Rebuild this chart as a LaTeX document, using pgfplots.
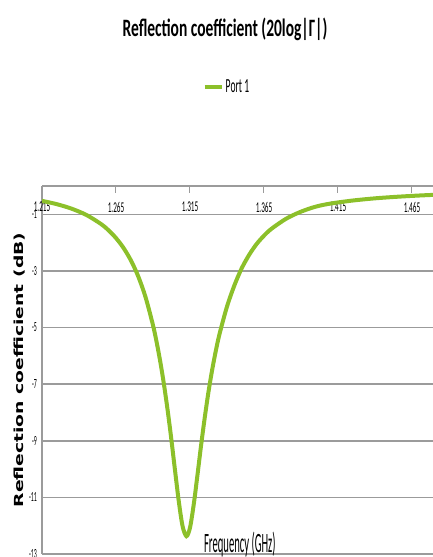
\documentclass[border=0pt]{standalone}
\usepackage{graphicx}
\usepackage{fontspec}
\setmainfont{Carlito}
\newfontfamily\djv{DejaVu Sans}
\usepackage{pgfplots}
\pgfplotsset{compat=1.18}
\definecolor{pgreen}{RGB}{140,192,42}
\definecolor{gridg}{RGB}{155,155,155}
\newcommand{\xt}[1]{\fontsize{15}{15}\selectfont\scalebox{0.48}[1]{#1}}
\newcommand{\yt}[1]{\fontsize{14}{14}\selectfont\scalebox{0.42}[1]{#1}}
\begin{document}
\begin{tikzpicture}
\path[use as bounding box] (0,0) rectangle (433pt,557pt);
\begin{axis}[
  at={(42pt,3pt)}, anchor=south west,
  scale only axis, width=391pt, height=368pt,
  xmin=1.215, xmax=1.4792, ymin=-13, ymax=0,
  axis x line*=top, axis y line*=left,
  axis line style={-, draw=gridg, line width=1.2pt},
  xtick={1.215,1.265,1.315,1.365,1.415,1.465},
  xticklabels={\xt{1.215},\xt{1.265},\xt{1.315},\xt{1.365},\xt{1.415},\xt{1.465}},
  xtick pos=right, xticklabel pos=right,
  tick align=inside, major tick length=7pt,
  xtick style={draw=gridg, line width=1pt},
  xticklabel style={anchor=north, yshift=-16pt, inner sep=0pt},
  ytick={-1,-3,-5,-7,-9,-11,-13},
  yticklabels={\yt{-1},\yt{-3},\yt{-5},\yt{-7},\yt{-9},\yt{-11},\yt{-13}},
  ytick style={draw=none},
  yticklabel style={anchor=east, inner sep=0pt, xshift=-5pt},
  ymajorgrids, major grid style={draw=gridg, line width=1.6pt},
  title={\fontsize{25}{25}\selectfont\bfseries\scalebox{0.62}[1]{Reflection coefficient (20log|Γ|)}},
  title style={at={(axis description cs:0.468,1.41)}, anchor=center, inner sep=0pt},
  xlabel={\fontsize{28}{28}\selectfont\scalebox{0.38}[1]{Frequency (GHz)}},
  xlabel style={at={(axis description cs:0.506,0.005)}, anchor=base, inner sep=0pt},
  ylabel={\djv\bfseries\fontsize{12.5}{12.5}\selectfont\scalebox{1.5}[1]{Reflection coefficient (dB)}},
  ylabel style={at={(axis description cs:-0.0563,0.5)}, anchor=center, inner sep=0pt},
  legend style={at={(axis description cs:0.473,1.269)}, anchor=center, draw=none, fill=none, inner sep=0pt,
    font=\fontsize{20}{20}\selectfont},
  legend cell align=left,
  legend image code/.code={\draw[#1, line width=4pt] (0pt,0pt) -- (17pt,0pt);},
]
\addplot[pgreen, line width=4pt, smooth, tension=0.5] coordinates {
(1.215,-0.525) (1.225,-0.642) (1.235,-0.801) (1.245,-1.023) (1.255,-1.347)
(1.260,-1.566) (1.265,-1.839) (1.270,-2.182) (1.275,-2.621) (1.280,-3.189)
(1.285,-3.933) (1.290,-4.919) (1.2925,-5.528) (1.295,-6.232) (1.2975,-7.042)
(1.300,-7.964) (1.3025,-8.996) (1.305,-10.10) (1.3075,-11.17) (1.310,-12.02)
(1.3126,-12.37)
(1.315,-12.07) (1.3175,-11.26) (1.320,-10.23) (1.3225,-9.16) (1.325,-8.17)
(1.3275,-7.27) (1.330,-6.49) (1.3325,-5.81) (1.335,-5.22) (1.340,-4.26)
(1.345,-3.51) (1.350,-2.90) (1.355,-2.43) (1.360,-2.05) (1.365,-1.755)
(1.370,-1.514) (1.380,-1.155) (1.390,-0.907) (1.400,-0.729) (1.410,-0.620)
(1.425,-0.513) (1.440,-0.436) (1.455,-0.380) (1.470,-0.336) (1.4797,-0.313)
};
\addlegendentry{\scalebox{0.48}[1]{Port 1}}
\end{axis}
\end{tikzpicture}
\end{document}
